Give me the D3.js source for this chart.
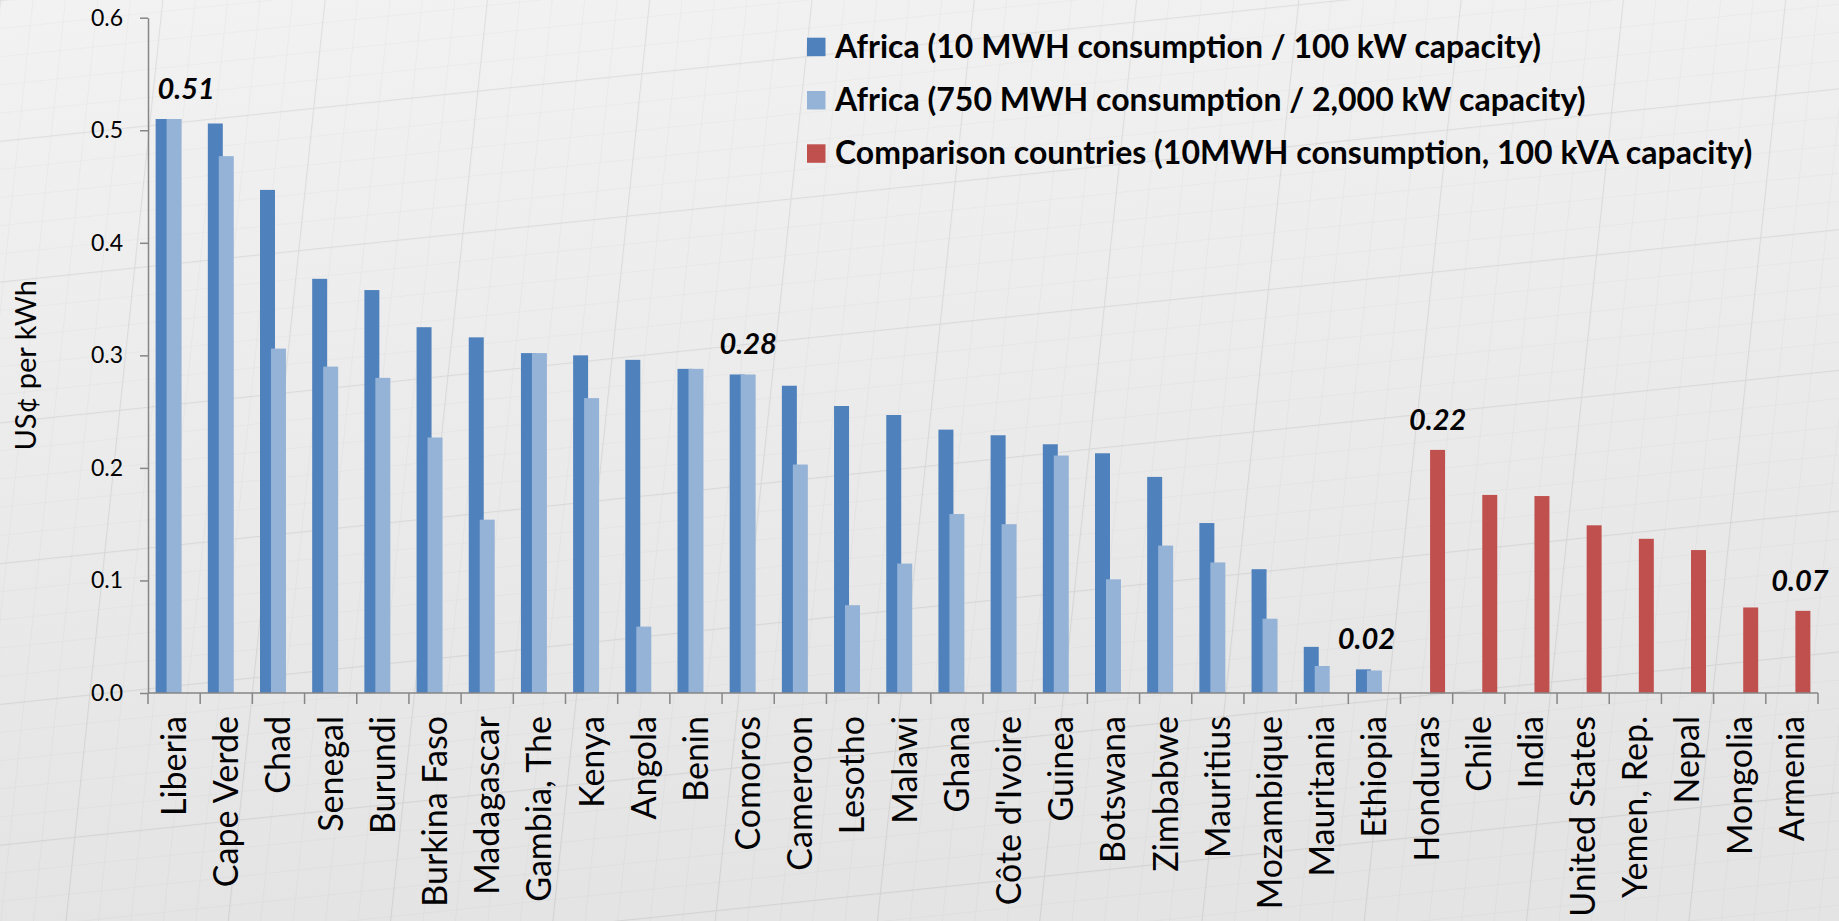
<!DOCTYPE html>
<html>
<head>
<meta charset="utf-8">
<style>
	html, body { margin: 0; padding: 0; background: #ececec; overflow: hidden; }
	svg { display: block; }
	text { font-family: Lato, "Open Sans", sans-serif; fill: #000; }
</style>
</head>
<body>

<div id="vis-tariffs"></div>

<script src="https://cdn.jsdelivr.net/npm/d3@7/dist/d3.min.js"></script>

<script>

	// Data //
	// ---- //

	const countries = ["Liberia", "Cape Verde", "Chad", "Senegal", "Burundi", "Burkina Faso",
		"Madagascar", "Gambia, The", "Kenya", "Angola", "Benin", "Comoros", "Cameroon",
		"Lesotho", "Malawi", "Ghana", "Côte d'Ivoire", "Guinea", "Botswana", "Zimbabwe",
		"Mauritius", "Mozambique", "Mauritania", "Ethiopia", "Honduras", "Chile", "India",
		"United States", "Yemen, Rep.", "Nepal", "Mongolia", "Armenia"];

	// Africa, 10 MWH consumption / 100 kW capacity
	const africaSmall = [0.510, 0.506, 0.447, 0.368, 0.358, 0.325, 0.316, 0.302, 0.300, 0.296,
		0.288, 0.283, 0.273, 0.255, 0.247, 0.234, 0.229, 0.221, 0.213, 0.192, 0.151, 0.110,
		0.041, 0.021, null, null, null, null, null, null, null, null];

	// Africa, 750 MWH consumption / 2,000 kW capacity
	const africaLarge = [0.510, 0.477, 0.306, 0.290, 0.280, 0.227, 0.154, 0.302, 0.262, 0.059,
		0.288, 0.283, 0.203, 0.078, 0.115, 0.159, 0.150, 0.211, 0.101, 0.131, 0.116, 0.066,
		0.024, 0.020, null, null, null, null, null, null, null, null];

	// Comparison countries, 10MWH consumption, 100 kVA capacity
	const comparison = [null, null, null, null, null, null, null, null, null, null, null, null,
		null, null, null, null, null, null, null, null, null, null, null, null,
		0.216, 0.176, 0.175, 0.149, 0.137, 0.127, 0.076, 0.073];

	const seriesNames = ["Africa (10 MWH consumption / 100 kW capacity)",
		"Africa (750 MWH consumption / 2,000 kW capacity)",
		"Comparison countries (10MWH consumption, 100 kVA capacity)"];

	const yTicks = [0, 0.1, 0.2, 0.3, 0.4, 0.5, 0.6];

	const calloutCountries = ["Liberia", "Comoros", "Ethiopia", "Honduras", "Armenia"];
	const calloutLabels = ["0.51", "0.28", "0.02", "0.22", "0.07"];


	// Setup //
	// ----- //

	const colors = ["#4f81bd", "#95b3d7", "#c0504d"];
	const calloutShift = [12, 0, -8, 11, 8];

	const width = 1839, height = 921;
	const plot = {left: 148, right: 1818, top: 17.7, bottom: 693};

	let svg = d3.select("#vis-tariffs")
		.append("svg")
			.attr("width", width)
			.attr("height", height);

	let x = d3.scaleBand().domain(countries).range([plot.left, plot.right]).padding(0);
	let y = d3.scaleLinear().domain([0, 0.6]).range([plot.bottom, plot.top]);

	// Background: grey sheet with a faint skewed grid
	let defs = svg.append("defs");
	let grad = defs.append("linearGradient").attr("id", "bg-grad")
		.attr("x1", 0).attr("y1", 0).attr("x2", 0.15).attr("y2", 1);
	grad.append("stop").attr("offset", "0%").attr("stop-color", "#f2f2f2");
	grad.append("stop").attr("offset", "100%").attr("stop-color", "#e4e4e4");

	let minor = defs.append("pattern").attr("id", "grid-minor")
		.attr("patternUnits", "userSpaceOnUse").attr("width", 33).attr("height", 28)
		.attr("patternTransform", "rotate(-6) skewX(-12)");
	minor.append("path").attr("d", "M 33 0 L 0 0 0 28")
		.attr("fill", "none").attr("stroke", "rgba(0,0,0,0.045)").attr("stroke-width", 1.2);

	let major = defs.append("pattern").attr("id", "grid-major")
		.attr("patternUnits", "userSpaceOnUse").attr("width", 165).attr("height", 140)
		.attr("patternTransform", "rotate(-6) skewX(-12)");
	major.append("path").attr("d", "M 165 0 L 0 0 0 140")
		.attr("fill", "none").attr("stroke", "rgba(0,0,0,0.05)").attr("stroke-width", 2.4);

	svg.append("rect").attr("width", width).attr("height", height).attr("fill", "url(#bg-grad)");
	svg.append("rect").attr("width", width).attr("height", height).attr("fill", "url(#grid-minor)");
	svg.append("rect").attr("width", width).attr("height", height).attr("fill", "url(#grid-major)");


	// Bars //
	// ---- //

	const series = [africaSmall, africaLarge, comparison];
	const barW = x.bandwidth() * 0.287;
	const barStep = barW * 0.733;
	const lead = (x.bandwidth() - (barW + barStep * (series.length - 1))) / 2;

	series.forEach(function(values, s) {
		let rows = countries.map((c, i) => ({country: c, value: values[i]}))
			.filter(d => d.value !== null);
		svg.append("g").selectAll("rect")
			.data(rows)
			.enter().append("rect")
				.attr("x", d => x(d.country) + lead + s * barStep)
				.attr("y", d => y(d.value))
				.attr("width", barW)
				.attr("height", d => y(0) - y(d.value))
				.style("fill", colors[s]);
	});


	// Axes //
	// ---- //

	let yAxis = svg.append("g")
		.attr("transform", "translate(" + plot.left + ",0)")
		.call(d3.axisLeft(y).tickValues(yTicks).tickFormat(d3.format(".1f"))
			.tickSize(8).tickPadding(17).tickSizeOuter(0));
	yAxis.select(".domain").attr("stroke", "#868686").attr("stroke-width", 1.5);
	yAxis.selectAll(".tick line").attr("stroke", "#868686").attr("stroke-width", 1.5);
	yAxis.selectAll(".tick text")
		.style("font-family", "Lato, sans-serif")
		.style("font-size", "23px")
		.attr("fill", "#000");

	let xAxis = svg.append("g");
	xAxis.append("line")
		.attr("x1", x.range()[0]).attr("x2", x.range()[1])
		.attr("y1", y(0)).attr("y2", y(0))
		.attr("stroke", "#868686").attr("stroke-width", 1.5);
	xAxis.selectAll(".xtick")
		.data(countries.map(c => x(c)).concat([x.range()[1]]))
		.enter().append("line")
			.attr("x1", d => d).attr("x2", d => d)
			.attr("y1", y(0)).attr("y2", y(0) + 11)
			.attr("stroke", "#868686").attr("stroke-width", 1.5);

	xAxis.selectAll(".xlabel")
		.data(countries)
		.enter().append("text")
			.attr("transform", d => "translate(" + (x(d) + x.bandwidth() / 2) + "," + (y(0) + 23) + ") rotate(-90)")
			.attr("text-anchor", "end")
			.attr("dy", "0.35em")
			.style("font-size", "34px")
			.text(d => d);

	svg.append("text")
		.attr("transform", "translate(36," + ((plot.top + plot.bottom) / 2 + 10) + ") rotate(-90)")
		.attr("text-anchor", "middle")
		.style("font-size", "29px")
		.text("US¢ per kWh");


	// Call-outs //
	// --------- //

	calloutCountries.forEach(function(c, k) {
		let i = countries.indexOf(c);
		let top = d3.max(series, v => v[i]);
		svg.append("text")
			.attr("x", x(c) + x.bandwidth() / 2 + calloutShift[k])
			.attr("y", y(top) - 20)
			.attr("text-anchor", "middle")
			.style("font-size", "29px")
			.style("font-weight", "bold")
			.style("font-style", "italic")
			.text(calloutLabels[k]);
	});


	// Legend //
	// ------ //

	let legend = svg.append("g").attr("transform", "translate(807,47)");
	seriesNames.forEach(function(name, s) {
		let row = legend.append("g").attr("transform", "translate(0," + s * 53.3 + ")");
		row.append("rect")
			.attr("x", 0).attr("y", -9.3)
			.attr("width", 18.5).attr("height", 18.5)
			.style("fill", colors[s]);
		row.append("text")
			.attr("x", 28).attr("y", 10.5)
			.style("font-size", "32px")
			.style("font-weight", "bold")
			.text(name);
	});

</script>
</body>
</html>
